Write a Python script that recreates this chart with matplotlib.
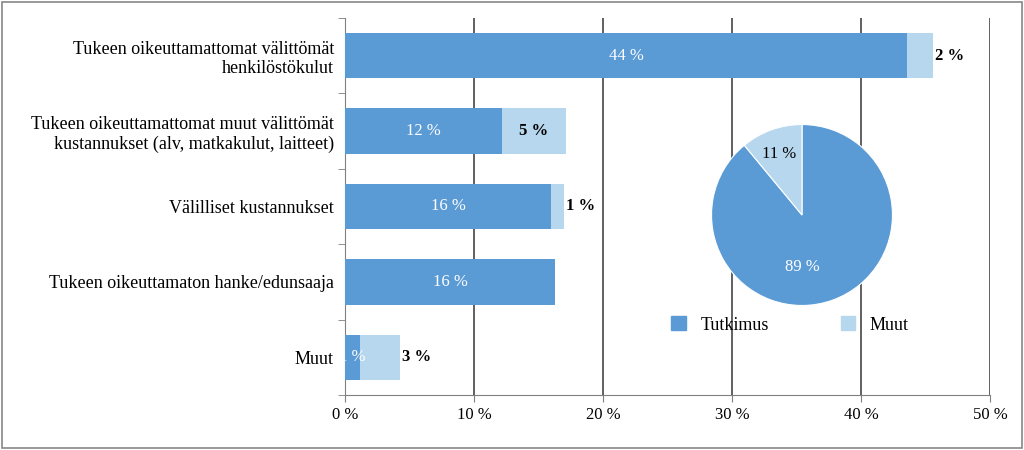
import matplotlib
matplotlib.use("Agg")
import matplotlib.pyplot as plt
from matplotlib.patches import Rectangle, Patch

categories = ["Tukeen oikeuttamattomat välittömät\nhenkilöstökulut",
              "Tukeen oikeuttamattomat muut välittömät\nkustannukset (alv, matkakulut, laitteet)",
              "Välilliset kustannukset",
              "Tukeen oikeuttamaton hanke/edunsaaja",
              "Muut"]
tutkimus = [43.6, 12.2, 16.0, 16.3, 1.2]
muut = [2.0, 4.9, 1.0, 0.0, 3.1]
tutk_labels = ["44 %", "12 %", "16 %", "16 %", "1 %"]
muut_labels = ["2 %", "5 %", "1 %", "", "3 %"]
pie_values = [89, 11]
pie_labels = ["89 %", "11 %"]
xticks = [0, 10, 20, 30, 40, 50]

blue = "#5b9bd5"
light = "#b7d7ee"
plt.rcParams['font.family'] = ['Liberation Serif', 'DejaVu Serif']

fig = plt.figure(figsize=(10.24, 4.5), dpi=100)
fig.patches.append(Rectangle((0.002, 0.004), 0.996, 0.992, transform=fig.transFigure,
                             fill=False, edgecolor="#888888", lw=1.2))
ax = fig.add_axes([345/1024, 1-395/450, 645/1024, 377/450])
y = list(range(len(categories)))
ax.barh(y, tutkimus, color=blue, height=0.6, zorder=3)
ax.barh(y, muut, left=tutkimus, color=light, height=0.6, zorder=3)
for i in y:
    ax.text(tutkimus[i]/2, i, tutk_labels[i], color="white", ha="center", va="center", fontsize=12, zorder=4)
    if muut_labels[i]:
        if muut[i] >= 4:
            ax.text(tutkimus[i]+muut[i]/2, i, muut_labels[i], ha="center", va="center", fontsize=12, fontweight="bold", zorder=4)
        else:
            ax.text(tutkimus[i]+muut[i]+0.1, i, muut_labels[i], ha="left", va="center", fontsize=12, fontweight="bold", zorder=4)
ax.set_ylim(len(categories)-0.5, -0.5)
ax.set_xlim(0, 50)
ax.set_xticks(xticks)
ax.set_xticklabels([f"{v} %" for v in xticks], fontsize=12)
ax.set_yticks(y)
ax.set_yticklabels(categories, fontsize=13)
ax.set_yticks([i+0.5 for i in range(-1, len(categories))], minor=True)
ax.tick_params(axis="y", which="major", length=0, pad=8)
ax.tick_params(axis="y", which="minor", length=5, color="#808080")
ax.tick_params(axis="x", length=5, color="#808080")
ax.grid(axis="x", color="#606060", lw=1.4, zorder=0)
for s in ["top", "right"]:
    ax.spines[s].set_visible(False)
for s in ["left", "bottom"]:
    ax.spines[s].set_color("#808080")

pax = fig.add_axes([(802-95)/1024, 1-(215+95)/450, 190/1024, 190/450])
pax.pie(pie_values, colors=[blue, light], startangle=90, counterclock=False, radius=1.0,
        wedgeprops=dict(edgecolor="white", lw=0.8))
pax.set_xlim(-1.05, 1.05)
pax.set_ylim(-1.05, 1.05)
pax.text(0.0, -0.57, pie_labels[0], color="white", ha="center", va="center", fontsize=12)
pax.text(-0.25, 0.67, pie_labels[1], ha="center", va="center", fontsize=12)
pax.set_aspect("equal")
fig.legend(handles=[Patch(color=blue, label="Tutkimus"), Patch(color=light, label="Muut")],
           loc="center", bbox_to_anchor=(790/1024, 1-325/450), ncol=2, frameon=False,
           fontsize=13, handlelength=0.8, handleheight=0.8, columnspacing=4)
fig.savefig("out.png", dpi=100)
